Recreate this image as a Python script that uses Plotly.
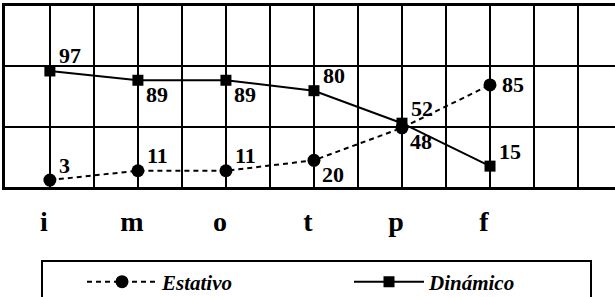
import plotly.graph_objects as go

categories = ["i", "m", "o", "t", "p", "f"]
estativo = [3, 11, 11, 20, 48, 85]
dinamico = [97, 89, 89, 80, 52, 15]

# label placement (style): "t" = above-right, "b" = below-right, "r" = right
estativo_place = ["t", "t", "t", "b", "b", "r"]
dinamico_place = ["t", "b", "b", "t", "t", "t"]

xs = list(range(len(categories)))
FONT = "Liberation Serif, Times New Roman, serif"
SHIFT = {"t": (7, 15), "b": (6, -14), "r": (10, 0)}

fig = go.Figure()
fig.add_trace(go.Scatter(
    x=xs, y=estativo, name="Estativo", mode="lines+markers",
    line=dict(color="black", width=2, dash="5px,4px"),
    marker=dict(symbol="circle", size=13, color="black"),
    cliponaxis=False,
))
fig.add_trace(go.Scatter(
    x=xs, y=dinamico, name="Dinámico", mode="lines+markers",
    line=dict(color="black", width=2),
    marker=dict(symbol="square", size=11, color="black"),
    cliponaxis=False,
))

for vals, places in ((estativo, estativo_place), (dinamico, dinamico_place)):
    for x, v, p in zip(xs, vals, places):
        dx, dy = SHIFT[p]
        fig.add_annotation(x=x, y=v, text=str(v), showarrow=False,
                           xanchor="left", yanchor="middle", xshift=dx, yshift=dy,
                           font=dict(family=FONT, size=22, color="black", weight="bold"))

# legend frame
fig.add_shape(type="rect", xref="paper", yref="paper",
              x0=(42 - 5) / 610, x1=(591 - 5) / 610, y0=(187 - 261) / 181, y1=-0.7,
              line=dict(color="black", width=2), fillcolor="rgba(0,0,0,0)")

fig.update_layout(
    width=615, height=297,
    margin=dict(l=5, r=0, t=6, b=110, autoexpand=False),
    paper_bgcolor="white", plot_bgcolor="white",
    font=dict(family=FONT, color="black"),
    showlegend=True,
    legend=dict(orientation="h", x=(82 - 5) / 610, xanchor="left",
                y=(187 - 282) / 181, yanchor="middle",
                font=dict(family=FONT, size=21, color="black", weight="bold", style="italic"),
                itemwidth=70, entrywidth=182, bgcolor="rgba(0,0,0,0)", borderwidth=0),
    xaxis=dict(range=[-0.51, 6.42], tickvals=xs, ticktext=categories,
               tickfont=dict(family=FONT, size=28, color="black", weight="bold"),
               showgrid=True, gridcolor="black", gridwidth=1.5,
               minor=dict(tick0=0, dtick=0.5, showgrid=True, gridcolor="black", gridwidth=1.5),
               showline=True, linecolor="black", linewidth=3, mirror=True, automargin=False,
               ticks="", zeroline=False, ticklabelstandoff=7, ticklabelshift=-6),
    yaxis=dict(range=[-3, 153], tick0=-3, dtick=52, showticklabels=False,
               showgrid=True, gridcolor="black", gridwidth=1.5,
               showline=True, linecolor="black", linewidth=2.5, automargin=False,
               ticks="", zeroline=False),
)

fig.write_html("out.html", config={"displayModeBar": False},
               post_script="document.body.style.margin='0px';")
